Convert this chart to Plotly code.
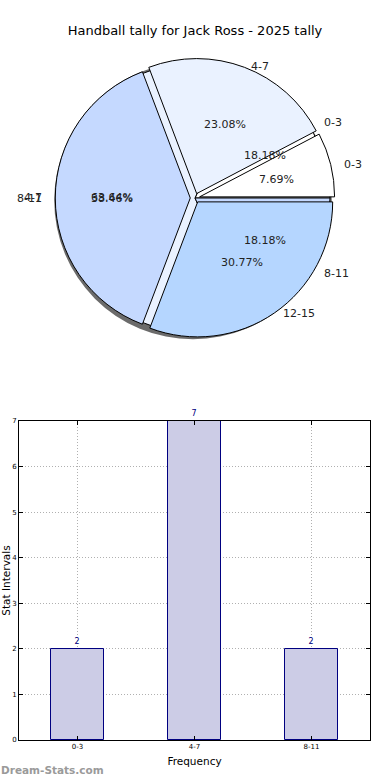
import numpy as np
import plotly.graph_objects as go

title = "Handball tally for Jack Ross - 2025 tally"

# Pie A (top layer, exploded)
pie_a_labels = ["0-3", "4-7", "8-11", "12-15"]
pie_a_values = [1, 3, 5, 4]
pie_a_colors = ["#ffffff", "#eaf2ff", "#c5d9ff", "#b5d6ff"]

# Pie B (under layer)
pie_b_labels = ["0-3", "4-7", "8-11"]
pie_b_values = [2, 7, 2]
pie_b_colors = ["#ffffff", "#eaf2ff", "#c5d9ff"]

# Bar chart
bar_categories = ["0-3", "4-7", "8-11"]
bar_values = [2, 7, 2]

W, H = 390, 780
cx, cy, R = 195, 198, 135
pull = 0.035

fig = go.Figure()

def pie_domain(dx=0, dy=0, extra=1.0):
    h = R * extra
    return dict(x=[(cx + dx - h) / W, (cx + dx + h) / W],
                y=[1 - (cy + dy + h) / H, 1 - (cy + dy - h) / H])

def start_rotation(values):
    # plotly counterclockwise pies end their first slice at `rotation`;
    # shift so the first slice starts at 3 o'clock like matplotlib
    return 90 - 360.0 * values[0] / sum(values)

# shadow
fig.add_trace(go.Pie(values=[sum(pie_a_values)], labels=["shadow"],
                     marker=dict(colors=["rgba(70,70,70,0.8)"], line=dict(width=0)),
                     textinfo="none", hoverinfo="skip", sort=False,
                     domain=pie_domain(-2, 2.5, 1.0 + pull * 0.8), showlegend=False))

fig.add_trace(go.Pie(values=pie_b_values, labels=[l + " " for l in pie_b_labels],
                     marker=dict(colors=pie_b_colors, line=dict(color="black", width=1)),
                     textinfo="none", sort=False, direction="counterclockwise",
                     rotation=start_rotation(pie_b_values),
                     domain=pie_domain(0, 0, 1.0), showlegend=False))

fig.add_trace(go.Pie(values=pie_a_values, labels=pie_a_labels,
                     marker=dict(colors=pie_a_colors, line=dict(color="black", width=1)),
                     textinfo="none", sort=False, direction="counterclockwise",
                     rotation=start_rotation(pie_a_values),
                     pull=[pull] * len(pie_a_values),
                     domain=pie_domain(0, 0, 1.0 + pull), showlegend=False))

font_pie = dict(family="DejaVu Sans", size=11, color="#222222")

def add_pie_text(labels, values):
    vals = np.array(values, dtype=float)
    fr = vals / vals.sum()
    ends = np.cumsum(fr) * 360
    starts = ends - fr * 360
    mids = np.deg2rad((starts + ends) / 2)
    for lab, f, m in zip(labels, fr, mids):
        c, s = np.cos(m), np.sin(m)
        px, py = cx + 0.6 * R * 1.03 * c, cy - 0.6 * R * 0.97 * s
        fig.add_annotation(x=px / W, y=1 - py / H, xref="paper", yref="paper",
                           text=f"{f*100:.2f}%", showarrow=False, font=font_pie,
                           xanchor="center", yanchor="middle")
        lx, ly = cx + 1.12 * R * c, cy - 1.04 * R * s
        fig.add_annotation(x=lx / W, y=1 - ly / H, xref="paper", yref="paper",
                           text=lab, showarrow=False, font=font_pie,
                           xanchor="left" if c >= 0 else "right", yanchor="middle")

add_pie_text(pie_a_labels, pie_a_values)
add_pie_text(pie_b_labels, pie_b_values)

fig.add_trace(go.Bar(x=bar_categories, y=bar_values, width=0.45,
                     marker=dict(color="#ccccE6", line=dict(color="#000080", width=1)),
                     text=[str(v) for v in bar_values], textposition="outside",
                     textfont=dict(family="DejaVu Sans", size=8, color="#000080"),
                     cliponaxis=False, showlegend=False, xaxis="x", yaxis="y"))

axis_common = dict(showline=True, linecolor="black", linewidth=1, mirror="allticks",
                   ticks="inside", ticklen=4, tickcolor="black",
                   showgrid=True, gridcolor="#b0b0b0", griddash="1px,2px", gridwidth=1,
                   zeroline=False, automargin=False,
                   tickfont=dict(family="DejaVu Sans", size=7, color="black"))

fig.update_layout(
    width=W, height=H,
    margin=dict(l=0, r=0, t=0, b=0, autoexpand=False),
    paper_bgcolor="white", plot_bgcolor="white",
    title=dict(text=title, x=0.5, xref="paper", xanchor="center", y=1 - 30 / H, yanchor="middle",
               font=dict(family="DejaVu Sans", size=13, color="black")),
    xaxis=dict(domain=[19 / W, 370 / W], range=[-0.5, 2.5],
               title=dict(text="Frequency", font=dict(family="DejaVu Sans", size=10.5, color="black"),
                          standoff=7),
               **axis_common),
    yaxis=dict(domain=[40 / H, 1 - 421 / H], range=[0, 7], dtick=1,
               title=dict(text="Stat Intervals", font=dict(family="DejaVu Sans", size=10.5, color="black"),
                          standoff=4),
               **axis_common),
    bargap=0,
)

fig.add_annotation(x=0, y=1 - 770 / H, xref="paper", yref="paper", text="<b>Dream-Stats.com</b>",
                   showarrow=False, xanchor="left", yanchor="middle", borderpad=0,
                   font=dict(family="DejaVu Sans", size=10.5, color="#9a9a9a"))

fig.write_html("out.html", config={"displayModeBar": False},
               post_script="document.body.style.margin='0';")
